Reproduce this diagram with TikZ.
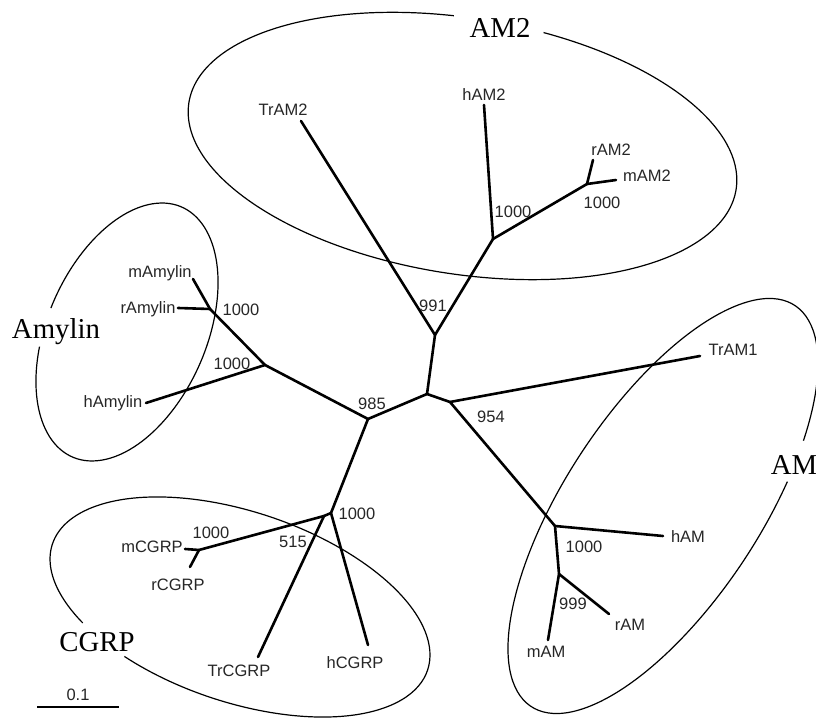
\documentclass[tikz,border=0pt]{standalone}
\usepackage{fontspec}
\setmainfont{Liberation Serif}
\setsansfont{Liberation Sans}
\begin{document}
\begin{tikzpicture}[x=1pt,y=1pt,
  br/.style={line width=2.6pt, line join=round, line cap=round},
  grp/.style={line width=1.2pt},
  lab/.style={font=\sffamily\fontsize{16.5}{18}\selectfont, inner sep=0pt, text=black!85},
  big/.style={font=\rmfamily\fontsize{28.8}{32}\selectfont, inner sep=0pt}]
\useasboundingbox (0,0) rectangle (816,720);

% group ellipses (with gaps for the group names)
\begin{scope}[shift={(462.5,574)}, rotate=-9]
  \draw[grp] (96:277 and 128) arc[start angle=96, end angle=437, x radius=277, y radius=128];
\end{scope}
\begin{scope}[shift={(127,388)}, rotate=66.4]
  \draw[grp] (110.8:136.4 and 79.5) arc[start angle=110.8, end angle=453.6, x radius=136.4, y radius=79.5];
\end{scope}
\begin{scope}[shift={(663,214)}, rotate=56.65]
  \draw[grp] (-56.7:240 and 97.4) arc[start angle=-56.7, end angle=291.7, x radius=240, y radius=97.4];
\end{scope}
\begin{scope}[shift={(240,113)}, rotate=-18.6]
  \draw[grp] (241.7:197.9 and 95.1) arc[start angle=241.7, end angle=583.3, x radius=197.9, y radius=95.1];
\end{scope}

% internal nodes
\coordinate (c0) at (427,326);
\coordinate (n991) at (435,385);
\coordinate (n954) at (450,318);
\coordinate (n985) at (368,301);
\coordinate (nAM2) at (493,481);
\coordinate (nrm2) at (587,536);
\coordinate (nAmy) at (265,355);
\coordinate (nAmyi) at (210,411);
\coordinate (nCG) at (331,207);
\coordinate (n515) at (324,204);
\coordinate (nmr) at (199,170);
\coordinate (nAM) at (555,194);
\coordinate (nAMi) at (559,146);

% tips
\coordinate (tTrAM2) at (301,599);
\coordinate (thAM2) at (484,615);
\coordinate (trAM2) at (593,560);
\coordinate (tmAM2) at (616,540);
\coordinate (tTrAM1) at (700,364);
\coordinate (thAM) at (663,184);
\coordinate (trAM) at (609,106);
\coordinate (tmAM) at (548,80);
\coordinate (thCG) at (368,75);
\coordinate (tTrCG) at (258,63);
\coordinate (tmCG) at (185,171);
\coordinate (trCG) at (190,153);
\coordinate (thAmy) at (146,317);
\coordinate (trAmy) at (178,412);
\coordinate (tmAmy) at (193,441);

% branches
\draw[br] (c0) -- (n991);
\draw[br] (c0) -- (n954);
\draw[br] (c0) -- (n985);
\draw[br] (n991) -- (tTrAM2);
\draw[br] (n991) -- (nAM2);
\draw[br] (nAM2) -- (thAM2);
\draw[br] (nAM2) -- (nrm2);
\draw[br] (nrm2) -- (trAM2);
\draw[br] (nrm2) -- (tmAM2);
\draw[br] (n954) -- (tTrAM1);
\draw[br] (n954) -- (nAM);
\draw[br] (nAM) -- (thAM);
\draw[br] (nAM) -- (nAMi);
\draw[br] (nAMi) -- (trAM);
\draw[br] (nAMi) -- (tmAM);
\draw[br] (n985) -- (nAmy);
\draw[br] (n985) -- (nCG);
\draw[br] (nAmy) -- (thAmy);
\draw[br] (nAmy) -- (nAmyi);
\draw[br] (nAmyi) -- (trAmy);
\draw[br] (nAmyi) -- (tmAmy);
\draw[br] (nCG) -- (n515);
\draw[br] (nCG) -- (thCG);
\draw[br] (n515) -- (nmr);
\draw[br] (n515) -- (tTrCG);
\draw[br] (nmr) -- (tmCG);
\draw[br] (nmr) -- (trCG);

% leaf labels
\node[lab] (lTrAM2) at (283,610) {TrAM2};
\node[lab] (lhAM2) at (484,625) {hAM2};
\node[lab] (lrAM2) at (611,570) {rAM2};
\node[lab] (lmAM2) at (647,544) {mAM2};
\node[lab] (lTrAM1) at (733,370) {TrAM1};
\node[lab] (lhAM) at (688,183) {hAM};
\node[lab] (lrAM) at (630,95) {rAM};
\node[lab] (lmAM) at (546,68) {mAM};
\node[lab] (lhCG) at (355,57) {hCGRP};
\node[lab] (lTrCG) at (239,49) {TrCGRP};
\node[lab] (lmCG) at (152,173) {mCGRP};
\node[lab] (lrCG) at (178,135) {rCGRP};
\node[lab] (lhAmy) at (113,317) {hAmylin};
\node[lab] (lrAmy) at (148,411) {rAmylin};
\node[lab] (lmAmy) at (160,447) {mAmylin};

% bootstrap values
\node[lab] (b1) at (513,508) {1000};
\node[lab] (b2) at (602,517) {1000};
\node[lab] (b3) at (433,414) {991};
\node[lab] (b4) at (491,303) {954};
\node[lab] (b5) at (372,316) {985};
\node[lab] (b6) at (241,410) {1000};
\node[lab] (b7) at (232,356) {1000};
\node[lab] (b8) at (357,206) {1000};
\node[lab] (b9) at (293,178) {515};
\node[lab] (b10) at (211,187) {1000};
\node[lab] (b11) at (584,173) {1000};
\node[lab] (b12) at (573,116) {999};

% group names
\node[big] (gAM2) at (500,692) {AM2};
\node[big] (gAmy) at (56,388) {Amylin};
\node[big] (gCG) at (97,78) {CGRP};
\node[big] (gAM) at (794,255) {AM};

% scale bar
\coordinate (sbL) at (37,13);
\coordinate (sbR) at (119,13);
\draw[line width=1.6pt] (sbL) -- (sbR);
\node[lab] (sb) at (78,25) {0.1};
\end{tikzpicture}
\end{document}
